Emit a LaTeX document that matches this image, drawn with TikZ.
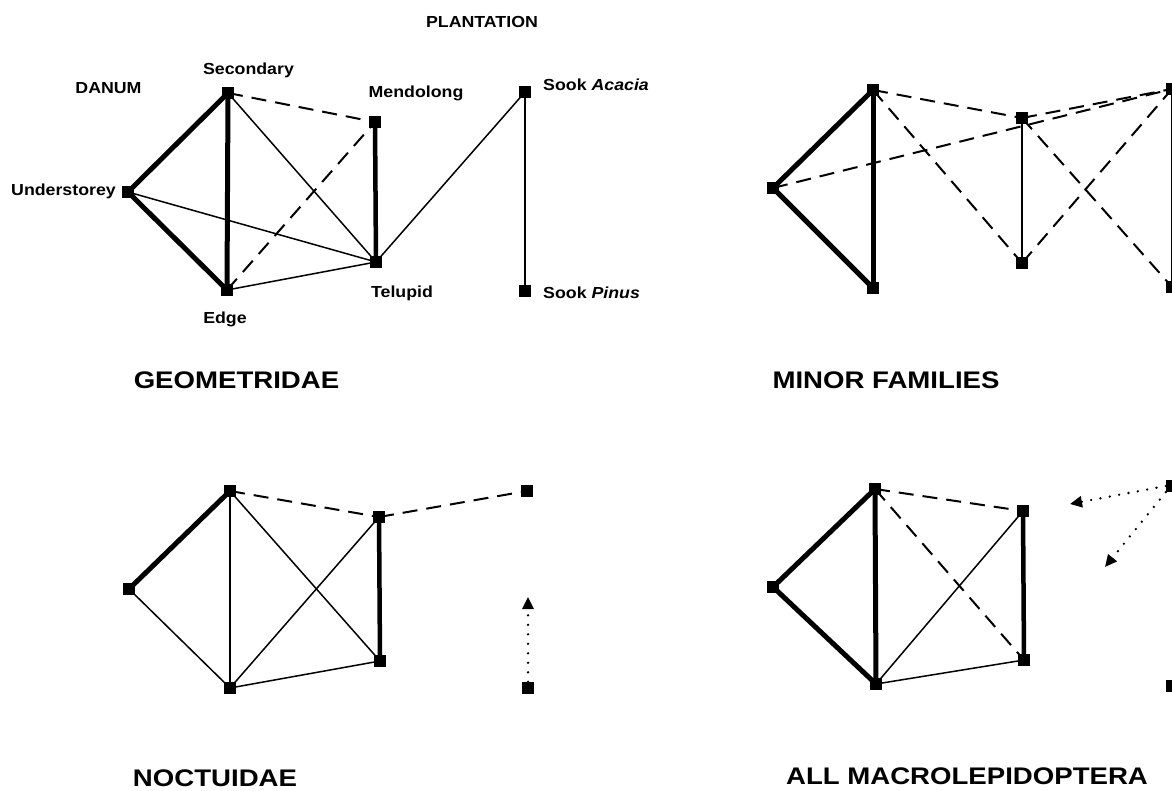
\documentclass[tikz,border=0pt]{standalone}
\usepackage{fontspec}
\setmainfont{Liberation Sans}
\usepackage{graphicx}
\usetikzlibrary{arrows.meta,backgrounds}
% horizontally widened lettering
\newcommand{\wideby}[2]{\scalebox{#1}[1]{#2}}
\newcommand{\lab}[1]{\wideby{1.11}{#1}}
\newcommand{\ttl}[1]{\wideby{1.15}{#1}}
\tikzset{
  sq/.style={rectangle, fill=black, minimum size=12pt, inner sep=0pt},
  site/.style={inner sep=0pt, font=\fontsize{16}{19}\selectfont\bfseries},
  heading/.style={inner sep=0pt, font=\fontsize{24}{28}\selectfont\bfseries},
  strong/.style={line width=5pt},
  weak/.style={line width=1.5pt},
  dashlink/.style={line width=2pt, dash pattern=on 15pt off 9pt},
  dotlink/.style={line width=2.6pt, line cap=round, dash pattern=on 0pt off 9.5pt,
    -{Triangle[length=12pt,width=11pt]}}
}
\begin{document}
\begin{tikzpicture}[x=1pt,y=-1pt]
\useasboundingbox (0,0) rectangle (1172,791);

% ---------- GEOMETRIDAE ----------
\node[sq] (aU) at (128,192) {};
\node[sq] (aS) at (228,93) {};
\node[sq] (aE) at (227,290) {};
\node[sq] (aM) at (375,122) {};
\node[sq] (aT) at (376,262) {};
\node[sq] (aA) at (525,92) {};
\node[sq] (aP) at (525,291) {};
\begin{pgfonlayer}{background}
  \draw[strong] (aU.center) -- (aS.center);
  \draw[strong] (aU.center) -- (aE.center);
  \draw[strong] (aS.center) -- (aE.center);
  \draw[strong, line width=4.5pt] (aM.center) -- (aT.center);
  \draw[dashlink] (aS.center) -- (aM.center);
  \draw[dashlink] (aE.center) -- (aM.center);
  \draw[weak] (aS.center) -- (aT.center);
  \draw[weak] (aU.center) -- (aT.center);
  \draw[weak] (aE.center) -- (aT.center);
  \draw[weak] (aT.center) -- (aA.center);
  \draw[weak] (aA.center) -- (aP.center);
\end{pgfonlayer}
\node[site, anchor=base] (tPlant) at (482,28) {\lab{PLANTATION}};
\node[site, anchor=base] (tDanum) at (108.5,94) {\lab{DANUM}};
\node[site, anchor=base] (tSec) at (248.5,74.5) {\lab{Secondary}};
\node[site, anchor=base] (tMen) at (416,98) {\lab{Mendolong}};
\node[site, anchor=base east] (tUnd) at (116,196) {\lab{Understorey}};
\node[site, anchor=base] (tEdge) at (225,324) {\lab{Edge}};
\node[site, anchor=base] (tTel) at (402,298) {\lab{Telupid}};
\node[site, anchor=base west] (tAca) at (543,91) {\lab{Sook \textit{Acacia}}};
\node[site, anchor=base west] (tPin) at (543,299) {\lab{Sook \textit{Pinus}}};
\node[heading, anchor=base] (hGeo) at (236.5,388) {\ttl{GEOMETRIDAE}};

% ---------- MINOR FAMILIES ----------
\node[sq] (bU) at (773,188) {};
\node[sq] (bS) at (873,90) {};
\node[sq] (bE) at (873,288) {};
\node[sq] (bM) at (1022,118) {};
\node[sq] (bT) at (1022,263) {};
\node[sq] (bA) at (1172,89) {};
\node[sq] (bP) at (1172,287) {};
\begin{pgfonlayer}{background}
  \draw[strong] (bU.center) -- (bS.center);
  \draw[strong] (bU.center) -- (bE.center);
  \draw[strong] (bS.center) -- (bE.center);
  \draw[weak] (bM.center) -- (bT.center);
  \draw[weak] (bA.center) -- (bP.center);
  \draw[dashlink] (bS.center) -- (bM.center);
  \draw[dashlink] (bS.center) -- (bT.center);
  \draw[dashlink] (bU.center) -- (bA.center);
  \draw[dashlink] (bM.center) -- (bA.center);
  \draw[dashlink] (bT.center) -- (bA.center);
  \draw[dashlink] (bM.center) -- (bP.center);
\end{pgfonlayer}
\node[heading, anchor=base] (hMin) at (886,388) {\ttl{MINOR FAMILIES}};

% ---------- NOCTUIDAE ----------
\node[sq] (cU) at (129,589) {};
\node[sq] (cS) at (230,491) {};
\node[sq] (cE) at (230,688) {};
\node[sq] (cM) at (379,517) {};
\node[sq] (cT) at (380,661) {};
\node[sq] (cA) at (527,491) {};
\node[sq] (cP) at (528,688) {};
\coordinate (cTip) at (528,597);
\begin{pgfonlayer}{background}
  \draw[strong] (cU.center) -- (cS.center);
  \draw[strong, line width=4.5pt] (cM.center) -- (cT.center);
  \draw[weak] (cU.center) -- (cE.center);
  \draw[weak, line width=1.3pt] (cS.center) -- (cE.center);
  \draw[weak] (cS.center) -- (cT.center);
  \draw[weak] (cE.center) -- (cM.center);
  \draw[weak] (cE.center) -- (cT.center);
  \draw[dashlink] (cS.center) -- (cM.center);
  \draw[dashlink] (cM.center) -- (cA.center);
  \draw[dotlink] (cP.north) -- (cTip);
\end{pgfonlayer}
\node[heading, anchor=base] (hNoc) at (215,786) {\ttl{NOCTUIDAE}};

% ---------- ALL MACROLEPIDOPTERA ----------
\node[sq] (dU) at (773,587) {};
\node[sq] (dS) at (875,489) {};
\node[sq] (dE) at (876,684) {};
\node[sq] (dM) at (1023,511) {};
\node[sq] (dT) at (1024,660) {};
\node[sq] (dA) at (1172,486) {};
\node[sq] (dP) at (1172,686) {};
\coordinate (dTipW) at (1070,504);
\coordinate (dTipSW) at (1105,567);
\begin{pgfonlayer}{background}
  \draw[strong] (dU.center) -- (dS.center);
  \draw[strong] (dU.center) -- (dE.center);
  \draw[strong] (dS.center) -- (dE.center);
  \draw[strong, line width=4.5pt] (dM.center) -- (dT.center);
  \draw[weak] (dE.center) -- (dM.center);
  \draw[weak] (dE.center) -- (dT.center);
  \draw[dashlink] (dS.center) -- (dM.center);
  \draw[dashlink] (dS.center) -- (dT.center);
  \draw[dotlink] (dA.west) -- (dTipW);
  \draw[dotlink] (dA.south west) -- (dTipSW);
\end{pgfonlayer}
\node[heading, anchor=base] (hAll) at (967,784) {\ttl{ALL MACROLEPIDOPTERA}};
\end{tikzpicture}
\end{document}
